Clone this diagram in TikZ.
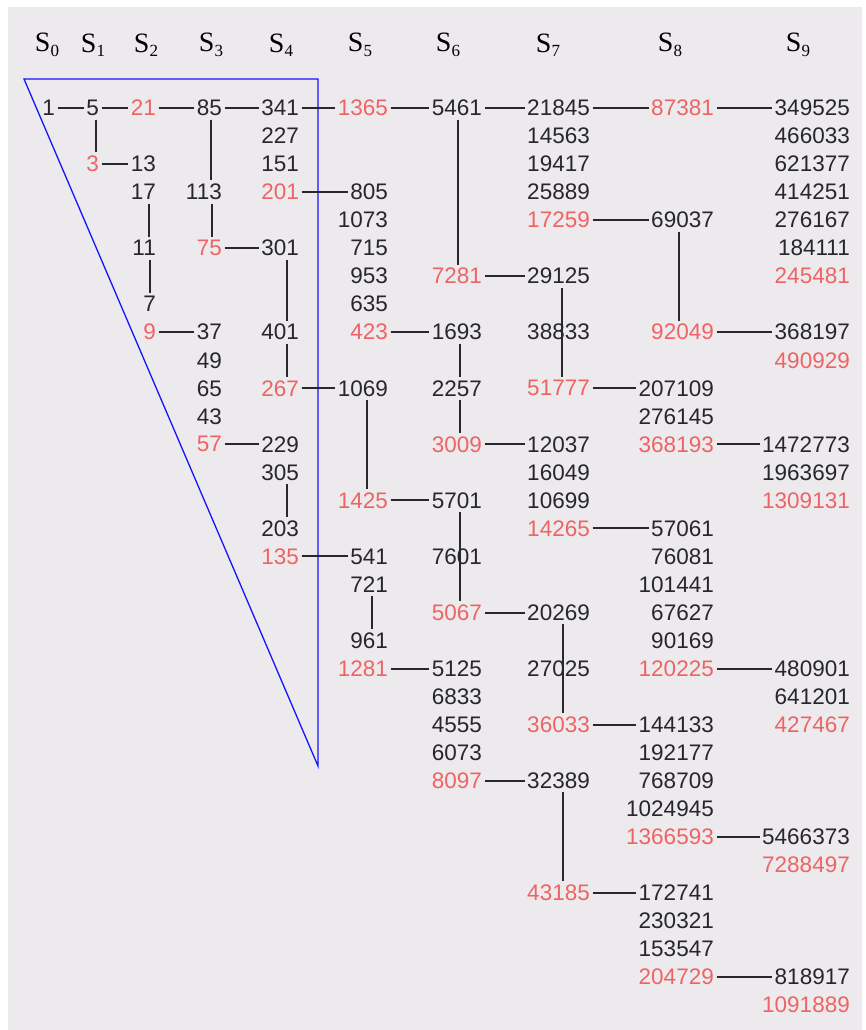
\documentclass[tikz,border=0pt]{standalone}
\usepackage{fontspec}
\setmainfont{Liberation Sans}
\newfontfamily\hdrfont{Liberation Serif}
\definecolor{bgc}{RGB}{237,234,238}
\definecolor{numblk}{RGB}{38,38,44}
\definecolor{numred}{RGB}{238,100,100}
\definecolor{linec}{RGB}{40,40,44}
\definecolor{triblue}{RGB}{20,20,255}
\newcommand\hdr[1]{{\hdrfont\fontsize{28}{28}\selectfont S\raisebox{-4.5pt}{\fontsize{17}{17}\selectfont #1}}}
\newcommand\nd[4]{\node[#4] (n#1) at (#2,{108+28.03*(#3-1)}) {#1};}
\tikzset{
  nb/.style={anchor=east, inner sep=1.5pt, text=numblk, font=\fontsize{22.5}{22.5}\selectfont},
  nr/.style={nb, text=numred},
  hl/.style={draw=linec, line width=2pt, shorten <=1pt, shorten >=1pt},
  vl/.style={draw=linec, line width=2pt, shorten <=2pt, shorten >=2pt},
  tri/.style={draw=triblue, line width=1.3pt, line join=miter}
}
\begin{document}
\begin{tikzpicture}[x=1pt,y=-1pt]
\useasboundingbox (0,0) rectangle (865,1030);
\fill[white] (0,0) rectangle (865,1030);
\fill[bgc] (8,7) rectangle (862,1030);
% headers
\node (h0) at (47,45) {\hdr{0}};
\node (h1) at (93,45) {\hdr{1}};
\node (h2) at (146,45) {\hdr{2}};
\node (h3) at (211,45) {\hdr{3}};
\node (h4) at (281,45) {\hdr{4}};
\node (h5) at (360,45) {\hdr{5}};
\node (h6) at (448,45) {\hdr{6}};
\node (h7) at (548,45) {\hdr{7}};
\node (h8) at (670,45) {\hdr{8}};
\node (h9) at (798,45) {\hdr{9}};
% triangle
\coordinate (tA) at (24,79);
\coordinate (tB) at (318,79);
\coordinate (tC) at (318,766);
\draw[tri] (tA) -- (tB) -- (tC) -- cycle;
% S0
\nd{1}{56.5}{1}{nb}
% S1
\nd{5}{100.5}{1}{nb}
\nd{3}{100.5}{3}{nr}
% S2
\nd{21}{157.5}{1}{nr}
\nd{13}{157.5}{3}{nb}
\nd{17}{157.5}{4}{nb}
\nd{11}{157.5}{6}{nb}
\nd{7}{157.5}{8}{nb}
\nd{9}{157.5}{9}{nr}
% S3
\nd{85}{223.5}{1}{nb}
\nd{113}{223.5}{4}{nb}
\nd{75}{223.5}{6}{nr}
\nd{37}{223.5}{9}{nb}
\nd{49}{223.5}{10}{nb}
\nd{65}{223.5}{11}{nb}
\nd{43}{223.5}{12}{nb}
\nd{57}{223.5}{13}{nr}
% S4
\nd{341}{300.5}{1}{nb}
\nd{227}{300.5}{2}{nb}
\nd{151}{300.5}{3}{nb}
\nd{201}{300.5}{4}{nr}
\nd{301}{300.5}{6}{nb}
\nd{401}{300.5}{9}{nb}
\nd{267}{300.5}{11}{nr}
\nd{229}{300.5}{13}{nb}
\nd{305}{300.5}{14}{nb}
\nd{203}{300.5}{16}{nb}
\nd{135}{300.5}{17}{nr}
% S5
\nd{1365}{389.5}{1}{nr}
\nd{805}{389.5}{4}{nb}
\nd{1073}{389.5}{5}{nb}
\nd{715}{389.5}{6}{nb}
\nd{953}{389.5}{7}{nb}
\nd{635}{389.5}{8}{nb}
\nd{423}{389.5}{9}{nr}
\nd{1069}{389.5}{11}{nb}
\nd{1425}{389.5}{15}{nr}
\nd{541}{389.5}{17}{nb}
\nd{721}{389.5}{18}{nb}
\nd{961}{389.5}{20}{nb}
\nd{1281}{389.5}{21}{nr}
% S6
\nd{5461}{483.5}{1}{nb}
\nd{7281}{483.5}{7}{nr}
\nd{1693}{483.5}{9}{nb}
\nd{2257}{483.5}{11}{nb}
\nd{3009}{483.5}{13}{nr}
\nd{5701}{483.5}{15}{nb}
\nd{7601}{483.5}{17}{nb}
\nd{5067}{483.5}{19}{nr}
\nd{5125}{483.5}{21}{nb}
\nd{6833}{483.5}{22}{nb}
\nd{4555}{483.5}{23}{nb}
\nd{6073}{483.5}{24}{nb}
\nd{8097}{483.5}{25}{nr}
% S7
\nd{21845}{591.5}{1}{nb}
\nd{14563}{591.5}{2}{nb}
\nd{19417}{591.5}{3}{nb}
\nd{25889}{591.5}{4}{nb}
\nd{17259}{591.5}{5}{nr}
\nd{29125}{591.5}{7}{nb}
\nd{38833}{591.5}{9}{nb}
\nd{51777}{591.5}{11}{nr}
\nd{12037}{591.5}{13}{nb}
\nd{16049}{591.5}{14}{nb}
\nd{10699}{591.5}{15}{nb}
\nd{14265}{591.5}{16}{nr}
\nd{20269}{591.5}{19}{nb}
\nd{27025}{591.5}{21}{nb}
\nd{36033}{591.5}{23}{nr}
\nd{32389}{591.5}{25}{nb}
\nd{43185}{591.5}{29}{nr}
% S8
\nd{87381}{715.5}{1}{nr}
\nd{69037}{715.5}{5}{nb}
\nd{92049}{715.5}{9}{nr}
\nd{207109}{715.5}{11}{nb}
\nd{276145}{715.5}{12}{nb}
\nd{368193}{715.5}{13}{nr}
\nd{57061}{715.5}{16}{nb}
\nd{76081}{715.5}{17}{nb}
\nd{101441}{715.5}{18}{nb}
\nd{67627}{715.5}{19}{nb}
\nd{90169}{715.5}{20}{nb}
\nd{120225}{715.5}{21}{nr}
\nd{144133}{715.5}{23}{nb}
\nd{192177}{715.5}{24}{nb}
\nd{768709}{715.5}{25}{nb}
\nd{1024945}{715.5}{26}{nb}
\nd{1366593}{715.5}{27}{nr}
\nd{172741}{715.5}{29}{nb}
\nd{230321}{715.5}{30}{nb}
\nd{153547}{715.5}{31}{nb}
\nd{204729}{715.5}{32}{nr}
% S9
\nd{349525}{851.5}{1}{nb}
\nd{466033}{851.5}{2}{nb}
\nd{621377}{851.5}{3}{nb}
\nd{414251}{851.5}{4}{nb}
\nd{276167}{851.5}{5}{nb}
\nd{184111}{851.5}{6}{nb}
\nd{245481}{851.5}{7}{nr}
\nd{368197}{851.5}{9}{nb}
\nd{490929}{851.5}{10}{nr}
\nd{1472773}{851.5}{13}{nb}
\nd{1963697}{851.5}{14}{nb}
\nd{1309131}{851.5}{15}{nr}
\nd{480901}{851.5}{21}{nb}
\nd{641201}{851.5}{22}{nb}
\nd{427467}{851.5}{23}{nr}
\nd{5466373}{851.5}{27}{nb}
\nd{7288497}{851.5}{28}{nr}
\nd{818917}{851.5}{32}{nb}
\nd{1091889}{851.5}{33}{nr}
% horizontal connectors
\foreach \a/\b in {1/5, 5/21, 21/85, 85/341, 341/1365, 1365/5461, 5461/21845, 21845/87381, 87381/349525,
  3/13, 9/37, 75/301, 201/805, 267/1069, 57/229, 135/541, 423/1693, 1425/5701, 1281/5125,
  7281/29125, 3009/12037, 5067/20269, 8097/32389, 17259/69037, 51777/207109, 14265/57061,
  36033/144133, 43185/172741, 92049/368197, 368193/1472773, 120225/480901, 1366593/5466373, 204729/818917}
  \draw[hl] (n\a.east) -- (n\a.east -| n\b.west);
% vertical connectors (a over b, with small horizontal offset)
\foreach \a/\b/\d in {5/3/3, 17/11/6, 11/7/6, 85/113/1.5, 113/75/8, 301/401/7, 401/267/7, 305/203/7,
  1069/1425/4, 721/961/3, 5461/7281/1, 1693/2257/3, 2257/3009/3, 5701/5067/3,
  29125/51777/3, 20269/36033/4, 32389/43185/4, 69037/92049/-4}
  \draw[vl] ([xshift=\d pt]n\a.south) -- ([xshift=\d pt]n\a.south |- n\b.north);
\end{tikzpicture}
\end{document}
